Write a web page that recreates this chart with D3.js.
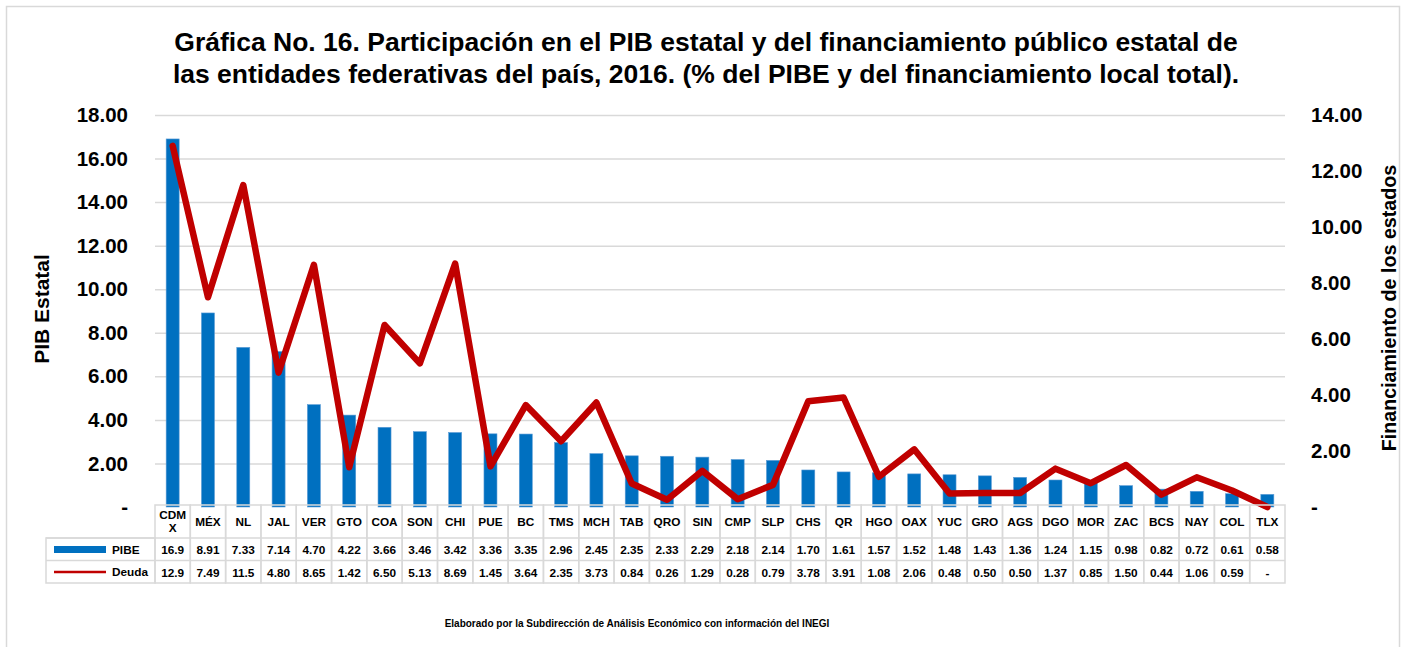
<!DOCTYPE html>
<html>
<head>
<meta charset="utf-8">
<script src="https://cdn.jsdelivr.net/npm/d3@7"></script>
<style>
  body { margin: 0; background: #fff; }
  svg { font-family: "Liberation Sans", Arial, sans-serif; }
</style>
</head>
<body>
<div id="chart"></div>
<script>
const width = 1405, height = 647;
const margin = ({ top: 115, right: 120, bottom: 140, left: 155 });

// data
const estados = ["CDMX", "MÉX", "NL", "JAL", "VER", "GTO", "COA", "SON", "CHI", "PUE", "BC", "TMS", "MCH", "TAB", "QRO", "SIN", "CMP", "SLP", "CHS", "QR", "HGO", "OAX", "YUC", "GRO", "AGS", "DGO", "MOR", "ZAC", "BCS", "NAY", "COL", "TLX"];
const pibe = [16.9, 8.91, 7.33, 7.14, 4.70, 4.22, 3.66, 3.46, 3.42, 3.36, 3.35, 2.96, 2.45, 2.35, 2.33, 2.29, 2.18, 2.14, 1.70, 1.61, 1.57, 1.52, 1.48, 1.43, 1.36, 1.24, 1.15, 0.98, 0.82, 0.72, 0.61, 0.58];
const deuda = [12.9, 7.49, 11.5, 4.80, 8.65, 1.42, 6.50, 5.13, 8.69, 1.45, 3.64, 2.35, 3.73, 0.84, 0.26, 1.29, 0.28, 0.79, 3.78, 3.91, 1.08, 2.06, 0.48, 0.50, 0.50, 1.37, 0.85, 1.50, 0.44, 1.06, 0.59, null];
const leftTicks = [0, 2, 4, 6, 8, 10, 12, 14, 16, 18];
const rightTicks = [0, 2, 4, 6, 8, 10, 12, 14];

const blue = "#0070C0", red = "#C00000", grid = "#d9d9d9";

const svg = d3.select("#chart").append("svg")
  .attr("width", width)
  .attr("height", height);

// outer frame
svg.append("rect")
  .attr("x", 6.5).attr("y", 6.5)
  .attr("width", 1393).attr("height", 660)
  .attr("fill", "none")
  .attr("stroke", grid)
  .attr("stroke-width", 1.5);

const plotBottom = 507;

const x = d3.scaleBand()
  .domain(estados)
  .range([margin.left, width - margin.right])
  .padding(0);

const y = d3.scaleLinear()
  .domain([0, 18])
  .range([plotBottom, margin.top]);

const y2 = d3.scaleLinear()
  .domain([0, 14])
  .range([plotBottom, margin.top]);

const fmt = d => d === 0 ? "-" : d.toFixed(2);

// gridlines
svg.append("g")
  .attr("transform", `translate(${margin.left},0)`)
  .call(d3.axisLeft(y).tickValues(leftTicks.slice(1)).tickSize(-(width - margin.right - margin.left)).tickFormat(""))
  .call(g => g.select(".domain").remove())
  .call(g => g.selectAll("line").attr("stroke", grid).attr("stroke-width", 1.5));

// left axis
svg.append("g")
  .attr("transform", `translate(${margin.left - 24},0)`)
  .call(d3.axisLeft(y).tickValues(leftTicks).tickSize(0).tickFormat(fmt))
  .call(g => g.select(".domain").remove())
  .call(g => g.selectAll("text")
    .attr("font-size", 20.5).attr("font-weight", "bold").attr("fill", "#000")
    .attr("font-family", "Liberation Sans, Arial, sans-serif"));

// right axis
svg.append("g")
  .attr("transform", `translate(${width - margin.right + 23},0)`)
  .call(d3.axisRight(y2).tickValues(rightTicks).tickSize(0).tickFormat(fmt))
  .call(g => g.select(".domain").remove())
  .call(g => g.selectAll("text")
    .attr("font-size", 20.5).attr("font-weight", "bold").attr("fill", "#000")
    .attr("font-family", "Liberation Sans, Arial, sans-serif"));

// axis titles
svg.append("text")
  .attr("transform", "translate(49,309) rotate(-90)")
  .attr("text-anchor", "middle")
  .attr("font-size", 21).attr("font-weight", "bold")
  .text("PIB Estatal");

svg.append("text")
  .attr("transform", "translate(1396,308) rotate(-90)")
  .attr("text-anchor", "middle")
  .attr("font-size", 19.7).attr("font-weight", "bold")
  .text("Financiamiento de los estados");

// bars
const barW = 13;
svg.append("g")
  .selectAll("rect")
  .data(estados)
  .join("rect")
  .attr("x", d => x(d) + (x.bandwidth() - barW) / 2)
  .attr("y", (d, i) => y(pibe[i]))
  .attr("width", barW)
  .attr("height", (d, i) => plotBottom - y(pibe[i]))
  .attr("fill", blue)
  .attr("stroke", "#5b9bd5")
  .attr("stroke-width", 0.6);

// line
const line = d3.line()
  .x(d => x(d.e) + x.bandwidth() / 2)
  .y(d => y2(d.v));

svg.append("path")
  .datum(estados.map((e, i) => ({ e: e, v: deuda[i] === null ? 0 : deuda[i] })))
  .attr("d", line)
  .attr("fill", "none")
  .attr("stroke", red)
  .attr("stroke-width", 6.5)
  .attr("stroke-linejoin", "round")
  .attr("stroke-linecap", "round");

// data table
const rowTop = [505, 538, 560.5, 583];
const tableLeft = 46;
const table = svg.append("g");

// cell borders
estados.forEach(e => {
  table.append("rect")
    .attr("x", x(e)).attr("y", rowTop[0])
    .attr("width", x.bandwidth()).attr("height", rowTop[3] - rowTop[0])
    .attr("fill", "none").attr("stroke", grid).attr("stroke-width", 1.5);
});
[1, 2].forEach(r => {
  table.append("line")
    .attr("x1", tableLeft).attr("x2", width - margin.right)
    .attr("y1", rowTop[r]).attr("y2", rowTop[r])
    .attr("stroke", grid).attr("stroke-width", 1.5);
});
table.append("rect")
  .attr("x", tableLeft).attr("y", rowTop[1])
  .attr("width", margin.left - tableLeft).attr("height", rowTop[3] - rowTop[1])
  .attr("fill", "none").attr("stroke", grid).attr("stroke-width", 1.5);

// category labels
table.selectAll("text.cat")
  .data(estados)
  .join("text")
  .attr("class", "cat")
  .attr("x", d => x(d) + x.bandwidth() / 2)
  .attr("y", d => d === "CDMX" ? 519 : 526)
  .attr("text-anchor", "middle")
  .attr("font-size", 11.8).attr("font-weight", "bold")
  .each(function (d) {
    if (d === "CDMX") {
      d3.select(this).append("tspan").attr("x", x(d) + x.bandwidth() / 2).text("CDM");
      d3.select(this).append("tspan").attr("x", x(d) + x.bandwidth() / 2).attr("dy", 13).text("X");
    } else {
      d3.select(this).text(d);
    }
  });

const fmtCell = v => v === null ? "-" : (v >= 10 ? v.toFixed(1) : v.toFixed(2));

table.selectAll("text.pibe")
  .data(pibe)
  .join("text")
  .attr("class", "pibe")
  .attr("x", (d, i) => x(estados[i]) + x.bandwidth() / 2)
  .attr("y", 554)
  .attr("text-anchor", "middle")
  .attr("font-size", 11.8).attr("font-weight", "bold")
  .text(fmtCell);

table.selectAll("text.deuda")
  .data(deuda)
  .join("text")
  .attr("class", "deuda")
  .attr("x", (d, i) => x(estados[i]) + x.bandwidth() / 2)
  .attr("y", 577)
  .attr("text-anchor", "middle")
  .attr("font-size", 11.8).attr("font-weight", "bold")
  .text(fmtCell);

// legend keys
table.append("rect")
  .attr("x", 54).attr("y", 546)
  .attr("width", 52).attr("height", 7)
  .attr("fill", blue);
table.append("text")
  .attr("x", 112).attr("y", 554)
  .attr("font-size", 11.8).attr("font-weight", "bold")
  .text("PIBE");
table.append("line")
  .attr("x1", 54).attr("x2", 106)
  .attr("y1", 572).attr("y2", 572)
  .attr("stroke", red).attr("stroke-width", 2.5);
table.append("text")
  .attr("x", 112).attr("y", 576)
  .attr("font-size", 11.8).attr("font-weight", "bold")
  .text("Deuda");

// title
const title = svg.append("text")
  .attr("text-anchor", "middle")
  .attr("font-size", 26.5).attr("font-weight", "bold");
title.append("tspan").attr("x", 706).attr("y", 51)
  .text("Gráfica No. 16. Participación en el PIB estatal y del financiamiento público estatal de");
title.append("tspan").attr("x", 706).attr("y", 83)
  .text("las entidades federativas del país, 2016. (% del PIBE y del financiamiento local total).");

// source note
svg.append("text")
  .attr("x", 637).attr("y", 627)
  .attr("text-anchor", "middle")
  .attr("font-size", 10).attr("font-weight", "bold")
  .text("Elaborado por la Subdirección de Análisis Económico con información del INEGI");
</script>
</body>
</html>
